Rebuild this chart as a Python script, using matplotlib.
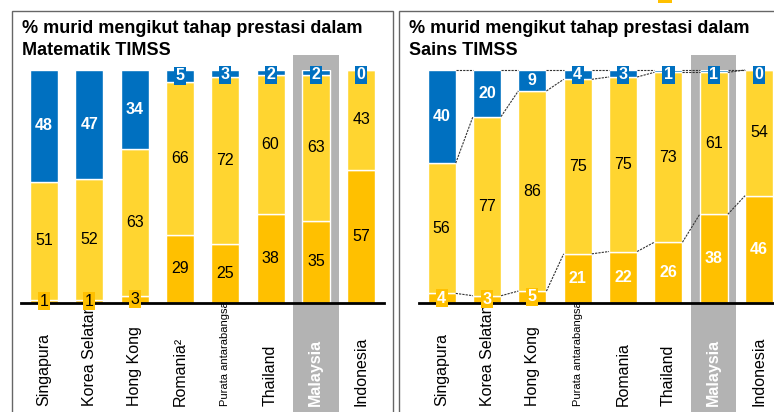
import matplotlib.pyplot as plt
from matplotlib.patches import Rectangle

plt.rcParams['font.family'] = ['Liberation Sans', 'DejaVu Sans']

# data
mat_title = ["% murid mengikut tahap prestasi dalam", "Matematik TIMSS"]
mat_cats = ["Singapura", "Korea Selatan", "Hong Kong", "Romania²",
            "Purata antarabangsa", "Thailand", "Malaysia", "Indonesia"]
mat_low = [1, 1, 3, 29, 25, 38, 35, 57]
mat_mid = [51, 52, 63, 66, 72, 60, 63, 43]
mat_high = [48, 47, 34, 5, 3, 2, 2, 0]

sci_title = ["% murid mengikut tahap prestasi dalam", "Sains TIMSS"]
sci_cats = ["Singapura", "Korea Selatan", "Hong Kong", "Purata antarabangsa",
            "Romania", "Thailand", "Malaysia", "Indonesia"]
sci_low = [4, 3, 5, 21, 22, 26, 38, 46]
sci_mid = [56, 77, 86, 75, 75, 73, 61, 54]
sci_high = [40, 20, 9, 4, 3, 1, 1, 0]

BLUE = "#0070C0"
YEL = "#FFD530"
ORG = "#FFC000"
GREY = "#B3B3B3"
W = 0.62
FS = 11.5

W_PX, H_PX = 774, 412
fig = plt.figure(figsize=(W_PX / 100, H_PX / 100), dpi=100)


def draw_panel(ax, cats, low, mid, high, low_white, connectors):
    n = len(cats)
    x = list(range(n))
    ax.set_xlim(-0.5, n - 0.5)
    ax.set_ylim(0, 100)
    ax.axis("off")

    # highlight for Malaysia
    hi = cats.index("Malaysia")
    ax.add_patch(Rectangle((hi - 0.5, -60), 1, 166.5, color=GREY, lw=0,
                           clip_on=False, zorder=0))

    bot2 = [a + b for a, b in zip(low, mid)]
    ax.bar(x, low, W, color=ORG, edgecolor="white", lw=1, zorder=2)
    ax.bar(x, mid, W, bottom=low, color=YEL, edgecolor="white", lw=1, zorder=2)
    ax.bar(x, high, W, bottom=bot2, color=BLUE, edgecolor="white", lw=1, zorder=2)
    ax.axhline(0, color="black", lw=2, zorder=4, clip_on=False)

    if connectors:
        for level in (low, bot2, [a + b for a, b in zip(bot2, high)]):
            for i in range(n - 1):
                ax.plot([i + W / 2, i + 1 - W / 2], [level[i], level[i + 1]],
                        color="#333333", lw=0.8, dashes=(2, 1), zorder=3,
                        clip_on=False)

    low_kw = dict(color="white", weight="bold") if low_white else dict(color="black")
    for i in x:
        # bottom segment
        if low[i] <= 5:
            ax.text(i, low[i] / 2, str(low[i]), ha="center", va="center",
                    fontsize=FS, zorder=5, **low_kw,
                    bbox=dict(boxstyle="square,pad=0.1", fc=ORG, ec="none"))
        else:
            ax.text(i, low[i] / 2, str(low[i]), ha="center", va="center",
                    fontsize=FS, zorder=5, **low_kw)
        # middle segment
        ax.text(i, low[i] + mid[i] / 2, str(mid[i]), ha="center", va="center",
                fontsize=FS, color="black", zorder=5)
        # top segment
        if high[i] <= 5:
            ax.text(i, 100 - max(high[i], 4) / 2, str(high[i]), ha="center",
                    va="center", fontsize=FS, color="white", weight="bold",
                    zorder=5,
                    bbox=dict(boxstyle="square,pad=0.1", fc=BLUE, ec="none"))
        else:
            ax.text(i, bot2[i] + high[i] / 2, str(high[i]), ha="center",
                    va="center", fontsize=FS, color="white", weight="bold",
                    zorder=5)

        # category labels
        c = cats[i]
        kw = dict(fontsize=11.5, color="black")
        if c == "Malaysia":
            kw = dict(fontsize=11.5, color="white", weight="bold")
        elif c == "Purata antarabangsa":
            kw = dict(fontsize=8, color="black")
        ax.text(i, -44.5, c, rotation=90, ha="center", va="bottom",
                clip_on=False, **kw)


def px_axes(x0, x1, y_top, y_base):
    return fig.add_axes([x0 / W_PX, 1 - y_base / H_PX,
                         (x1 - x0) / W_PX, (y_base - y_top) / H_PX])


ax1 = px_axes(21.4, 383.8, 70, 302.5)
draw_panel(ax1, mat_cats, mat_low, mat_mid, mat_high, False, False)
ax2 = px_axes(419, 781.8, 70, 302.7)
draw_panel(ax2, sci_cats, sci_low, sci_mid, sci_high, True, True)

# panel frames and titles
for x0, x1, title in ((12, 393, mat_title), (399, 790, sci_title)):
    fig.patches.append(Rectangle((x0 / W_PX, -0.1), (x1 - x0) / W_PX,
                                 1.1 - 11 / H_PX, transform=fig.transFigure,
                                 fill=False, ec="#666666", lw=1, zorder=0))
    for line, base in zip(title, (33.3, 55)):
        fig.text((x0 + 10) / W_PX, 1 - base / H_PX, line, ha="left",
                 va="baseline", fontsize=13, weight="bold")

# bit of a legend cut off at the top
fig.patches.append(Rectangle((658 / W_PX, 1 - 3 / H_PX), 14 / W_PX, 3 / H_PX,
                             transform=fig.transFigure, color=ORG, lw=0))

fig.savefig("out.png", dpi=100)
